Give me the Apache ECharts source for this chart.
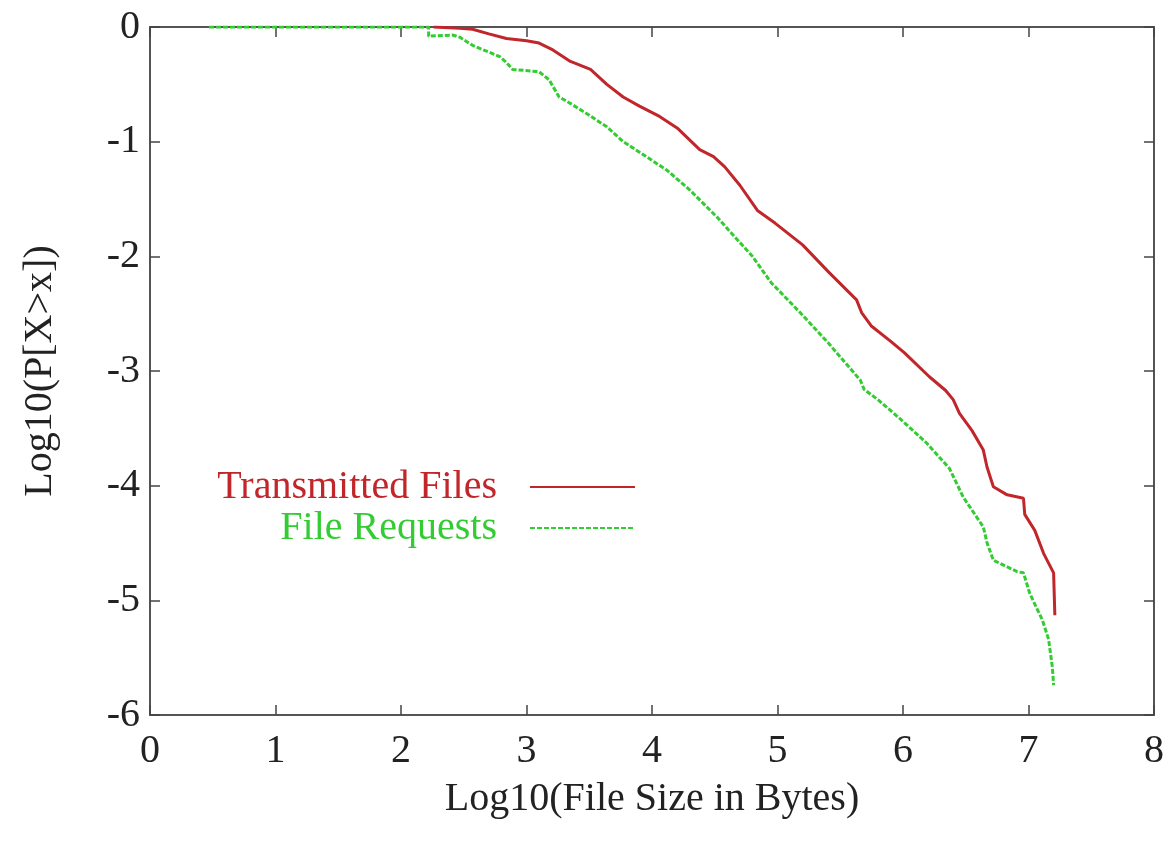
<!DOCTYPE html>
<html>
<head>
<meta charset="utf-8">
<script src="https://cdn.jsdelivr.net/npm/echarts@6/dist/echarts.min.js"></script>
<style>html,body{margin:0;padding:0;background:#fff}#c{width:1169px;height:844px}</style>
</head>
<body>
<div id="c"></div>
<script>
const xTicks = [0, 1, 2, 3, 4, 5, 6, 7, 8];
const yTicks = [0, -1, -2, -3, -4, -5, -6];

const transX = [2.26, 2.47, 2.57, 2.7, 2.84, 3.0, 3.1, 3.21, 3.35, 3.51, 3.64, 3.77, 3.9, 4.06, 4.2, 4.38, 4.49, 4.58, 4.7, 4.84, 4.98, 5.2, 5.41, 5.63, 5.67, 5.75, 5.9, 6.01, 6.21, 6.34, 6.4, 6.45, 6.55, 6.64, 6.67, 6.72, 6.83, 6.96, 6.97, 7.05, 7.12, 7.2, 7.21];
const transY = [0, -0.01, -0.02, -0.06, -0.1, -0.12, -0.14, -0.2, -0.3, -0.37, -0.5, -0.61, -0.69, -0.78, -0.88, -1.07, -1.13, -1.22, -1.38, -1.6, -1.71, -1.9, -2.14, -2.38, -2.49, -2.61, -2.74, -2.84, -3.05, -3.17, -3.25, -3.37, -3.52, -3.69, -3.84, -4.01, -4.08, -4.11, -4.25, -4.39, -4.59, -4.76, -5.13];

const reqX = [0.47, 2.22, 2.22, 2.41, 2.47, 2.57, 2.79, 2.84, 2.89, 3.1, 3.18, 3.26, 3.34, 3.5, 3.64, 3.77, 3.87, 4.01, 4.12, 4.3, 4.52, 4.61, 4.8, 4.95, 5.18, 5.4, 5.66, 5.69, 5.8, 5.97, 6.19, 6.37, 6.48, 6.64, 6.67, 6.72, 6.91, 6.96, 7.01, 7.11, 7.16, 7.19, 7.2];
const reqY = [0, 0, -0.08, -0.07, -0.09, -0.16, -0.26, -0.31, -0.37, -0.39, -0.46, -0.61, -0.66, -0.77, -0.87, -1.0, -1.07, -1.17, -1.25, -1.42, -1.66, -1.77, -2.0, -2.23, -2.49, -2.75, -3.08, -3.16, -3.25, -3.41, -3.63, -3.85, -4.1, -4.36, -4.5, -4.65, -4.75, -4.76, -4.94, -5.17, -5.34, -5.58, -5.74];

const names = ['Transmitted Files', 'File Requests'];
const RED = '#c0262a';
const GREEN = '#33cc33';
const FONT = 'Liberation Serif';
const FS = 40;

const pair = (xs, ys) => xs.map((x, i) => [x, ys[i]]);

const axisLine = {show: true, onZero: false, lineStyle: {color: '#555', width: 2}};
const tick = {show: true, inside: true, length: 10, lineStyle: {color: '#444', width: 1.5}};

const chart = echarts.init(document.getElementById('c'));
chart.setOption({
  animation: false,
  backgroundColor: '#fff',
  grid: {left: 150, right: 15, top: 27, bottom: 129},
  legend: [
    {data: [names[0]], orient: 'vertical', align: 'right', right: 528, top: 462,
     itemWidth: 105, itemHeight: 14, itemStyle: {opacity: 0},
     textStyle: {fontFamily: FONT, fontSize: FS, color: RED, padding: [0, 28, 0, 0]}},
    {data: [names[1]], orient: 'vertical', align: 'right', right: 528, top: 503,
     itemWidth: 105, itemHeight: 14, itemStyle: {opacity: 0},
     textStyle: {fontFamily: FONT, fontSize: FS, color: GREEN, padding: [0, 28, 0, 0]}}
  ],
  xAxis: [
    {type: 'value', min: 0, max: 8, interval: 1, position: 'bottom',
     name: 'Log10(File Size in Bytes)', nameLocation: 'middle', nameGap: 64,
     nameTextStyle: {fontFamily: FONT, fontSize: FS, color: '#222'},
     axisLine: axisLine, axisTick: tick, splitLine: {show: false},
     axisLabel: {fontFamily: FONT, fontSize: FS, color: '#222', margin: 16,
                 formatter: v => xTicks.includes(v) ? String(v) : ''}},
    {type: 'value', min: 0, max: 8, interval: 1, position: 'top',
     axisLine: axisLine, axisTick: tick, splitLine: {show: false}, axisLabel: {show: false}}
  ],
  yAxis: [
    {type: 'value', min: -6, max: 0, interval: 1, position: 'left',
     name: 'Log10(P[X>x])', nameLocation: 'middle', nameGap: 90, nameRotate: 90,
     nameTextStyle: {fontFamily: FONT, fontSize: FS, color: '#222'},
     axisLine: axisLine, axisTick: tick, splitLine: {show: false},
     axisLabel: {fontFamily: FONT, fontSize: FS, color: '#222', margin: 10,
                 formatter: v => yTicks.includes(v) ? String(v) : ''}},
    {type: 'value', min: -6, max: 0, interval: 1, position: 'right',
     axisLine: axisLine, axisTick: tick, splitLine: {show: false}, axisLabel: {show: false}}
  ],
  series: [
    {name: names[0], type: 'line', data: pair(transX, transY), symbol: 'none', showSymbol: false,
     color: RED, lineStyle: {color: RED, width: 3}, z: 3},
    {name: names[1], type: 'line', data: pair(reqX, reqY), symbol: 'none', showSymbol: false,
     color: GREEN, lineStyle: {color: GREEN, width: 3, type: [5, 2]}, z: 4}
  ]
});
</script>
</body>
</html>
